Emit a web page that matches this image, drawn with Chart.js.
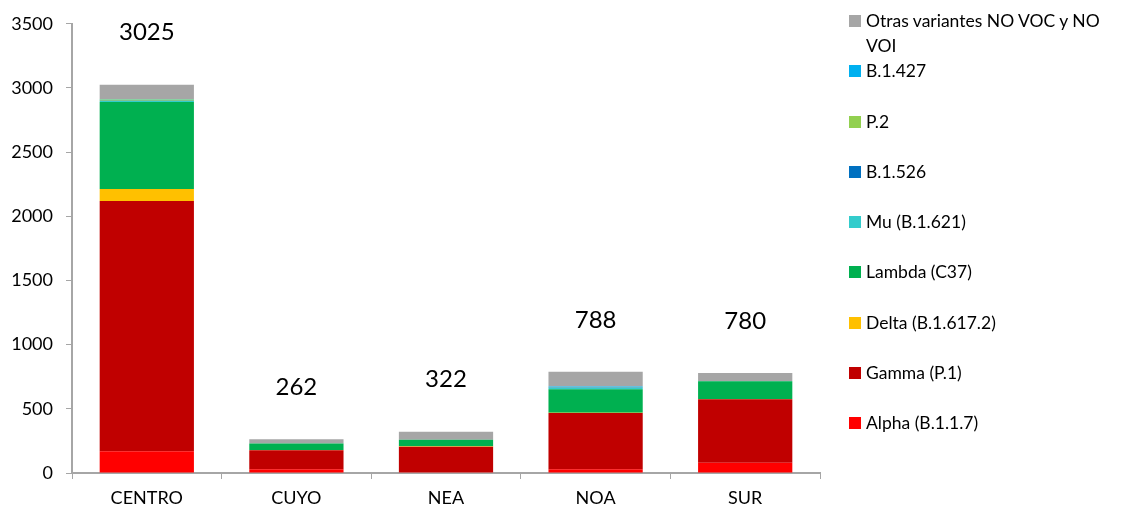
<!DOCTYPE html>
<html>
<head>
<meta charset="utf-8">
<script src="https://cdn.jsdelivr.net/npm/chart.js@4"></script>
<style>
  body { margin: 0; background: #fff; font-family: Lato, "Noto Sans", sans-serif; }
  #wrap { position: relative; width: 1126px; height: 514px; }
  #legend { position: absolute; left: 849px; top: 8px; width: 277px; }
  .item { position: relative; height: 50.3px; font-size: 17.5px; color: #000; }
  .item .box { position: absolute; left: 0; top: 7px; width: 12px; height: 12px; }
  .item .txt { position: absolute; left: 17px; top: 0px; line-height: 25px; width: 256px; }
</style>
</head>
<body>
<div id="wrap">
  <canvas id="chart" width="1126" height="514"></canvas>
  <div id="legend"></div>
</div>
<script>
// --- DATA ---
const regions = ['CENTRO', 'CUYO', 'NEA', 'NOA', 'SUR'];

const alpha   = [170, 30, 5, 30, 80];
const gamma   = [1950, 148, 200, 438, 495];
const delta   = [92, 2, 3, 2, 2];
const lambda  = [678, 50, 52, 182, 138];
const mu      = [8, 0, 0, 10, 2];
const b1526   = [2, 0, 0, 2, 0];
const p2      = [10, 0, 0, 2, 0];
const b1427   = [5, 0, 0, 8, 0];
const otras   = [110, 32, 62, 114, 63];

const yTicks = [0, 500, 1000, 1500, 2000, 2500, 3000, 3500];

// bottom to top
const series = [
    { label: 'Alpha (B.1.1.7)', data: alpha, color: '#ff0000' },
    { label: 'Gamma (P.1)', data: gamma, color: '#c00000' },
    { label: 'Delta (B.1.617.2)', data: delta, color: '#ffc000' },
    { label: 'Lambda (C37)', data: lambda, color: '#00b050' },
    { label: 'Mu (B.1.621)', data: mu, color: '#33cccc' },
    { label: 'B.1.526', data: b1526, color: '#0070c0' },
    { label: 'P.2', data: p2, color: '#92d050' },
    { label: 'B.1.427', data: b1427, color: '#00b0f0' },
    { label: 'Otras variantes NO VOC y NO VOI', data: otras, color: '#a6a6a6' }
];

const FONT = 'Lato, "Noto Sans", sans-serif';
const AXIS = '#a6a6a6';

// totals above each bar
const totalsPlugin = {
    id: 'totals',
    afterDatasetsDraw(chart) {
        const ctx = chart.ctx;
        const x = chart.scales.x, y = chart.scales.y;
        ctx.save();
        ctx.font = '24px ' + FONT;
        ctx.fillStyle = '#000';
        ctx.textAlign = 'center';
        ctx.textBaseline = 'middle';
        regions.forEach((r, i) => {
            const total = series.reduce((s, d) => s + d.data[i], 0);
            ctx.fillText(String(total), x.getPixelForValue(i), y.getPixelForValue(total) - 52);
        });
        ctx.restore();
    }
};

new Chart(document.getElementById('chart'), {
    type: 'bar',
    data: {
        labels: regions,
        datasets: series.map(s => ({
            label: s.label,
            data: s.data,
            backgroundColor: s.color,
            borderWidth: 0,
            barPercentage: 0.63,
            categoryPercentage: 1
        }))
    },
    options: {
        responsive: false,
        animation: false,
        layout: { padding: { left: 0, right: 306, top: 22, bottom: 0 } },
        plugins: {
            legend: { display: false },
            tooltip: { enabled: false }
        },
        scales: {
            x: {
                stacked: true,
                grid: { offset: true, drawOnChartArea: false, drawTicks: true, tickLength: 6, color: AXIS },
                border: { color: AXIS, width: 2 },
                ticks: { color: '#000', font: { family: FONT, size: 18 }, padding: 8 },
                afterFit(scale) { scale.height = 41; }
            },
            y: {
                stacked: true,
                min: 0,
                max: 3500,
                afterBuildTicks(scale) { scale.ticks = yTicks.map(v => ({ value: v })); },
                grid: { drawOnChartArea: false, drawTicks: true, tickLength: 6, color: AXIS },
                border: { color: AXIS, width: 2 },
                ticks: {
                    color: '#000', font: { family: FONT, size: 18 }, padding: 13,
                    callback: v => String(v)
                },
                afterFit(scale) { scale.width = 72; }
            }
        }
    },
    plugins: [totalsPlugin]
});

// legend, top to bottom as in the stack
const legend = document.getElementById('legend');
series.slice().reverse().forEach(s => {
    const item = document.createElement('div');
    item.className = 'item';
    item.innerHTML = '<span class="box" style="background:' + s.color + '"></span><span class="txt">' + s.label + '</span>';
    legend.appendChild(item);
});
</script>
</body>
</html>
